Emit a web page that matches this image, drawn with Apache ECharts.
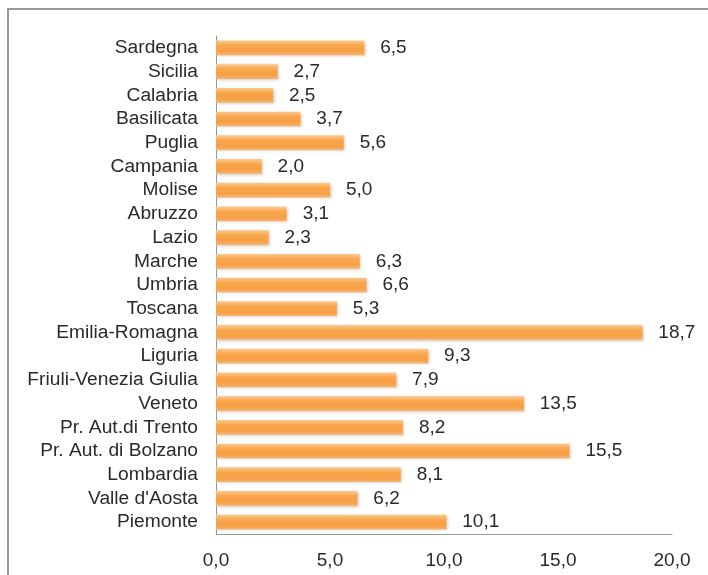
<!DOCTYPE html>
<html>
<head>
<meta charset="utf-8">
<script src="https://cdn.jsdelivr.net/npm/echarts@6/dist/echarts.min.js"></script>
<style>
html,body{margin:0;padding:0;background:#fff;}
#c{width:708px;height:575px;}
</style>
</head>
<body>
<div id="c"></div>
<script>
const regions = ["Sardegna","Sicilia","Calabria","Basilicata","Puglia","Campania","Molise","Abruzzo","Lazio","Marche","Umbria","Toscana","Emilia-Romagna","Liguria","Friuli-Venezia Giulia","Veneto","Pr. Aut.di Trento","Pr. Aut. di Bolzano","Lombardia","Valle d'Aosta","Piemonte"];
const values = [6.5,2.7,2.5,3.7,5.6,2.0,5.0,3.1,2.3,6.3,6.6,5.3,18.7,9.3,7.9,13.5,8.2,15.5,8.1,6.2,10.1];
const xMin = 0, xMax = 20, xStep = 5;

const fmt = v => v.toFixed(1).replace('.', ',');
const chart = echarts.init(document.getElementById('c'));
chart.setOption({
  animation:false,
  textStyle:{fontFamily:'Liberation Sans, Arial, sans-serif'},
  graphic:[{type:'rect',shape:{x:8,y:9,width:720,height:600},style:{fill:'none',stroke:'#9a9a9a',lineWidth:2}}],
  grid:{left:216,right:36,top:36,bottom:41},
  xAxis:{type:'value',min:xMin,max:xMax,interval:xStep,
    axisLine:{show:true,lineStyle:{color:'#9a9a9a',width:1}},
    axisTick:{show:false},splitLine:{show:false},
    axisLabel:{formatter:fmt,color:'#2a2a2a',fontSize:19,margin:17}},
  yAxis:{type:'category',data:regions,inverse:true,
    axisLine:{show:true,lineStyle:{color:'#8a9aa8',width:1}},
    axisTick:{show:false},
    axisLabel:{interval:0,color:'#2a2a2a',fontSize:19.2,margin:18}},
  series:[{type:'bar',data:values,barWidth:'62%',
    itemStyle:{color:new echarts.graphic.LinearGradient(0,0,0,1,[
      {offset:0,color:'#fbc98e'},{offset:0.35,color:'#f9a54c'},{offset:0.75,color:'#f7a045'},{offset:1,color:'#f2b57a'}]),
      shadowColor:'rgba(120,80,30,0.35)',shadowBlur:3,shadowOffsetX:1.5,shadowOffsetY:1},
    label:{show:true,position:'right',distance:16,formatter:p=>fmt(p.value),color:'#2a2a2a',fontSize:19}
  }]
});
</script>
</body>
</html>
